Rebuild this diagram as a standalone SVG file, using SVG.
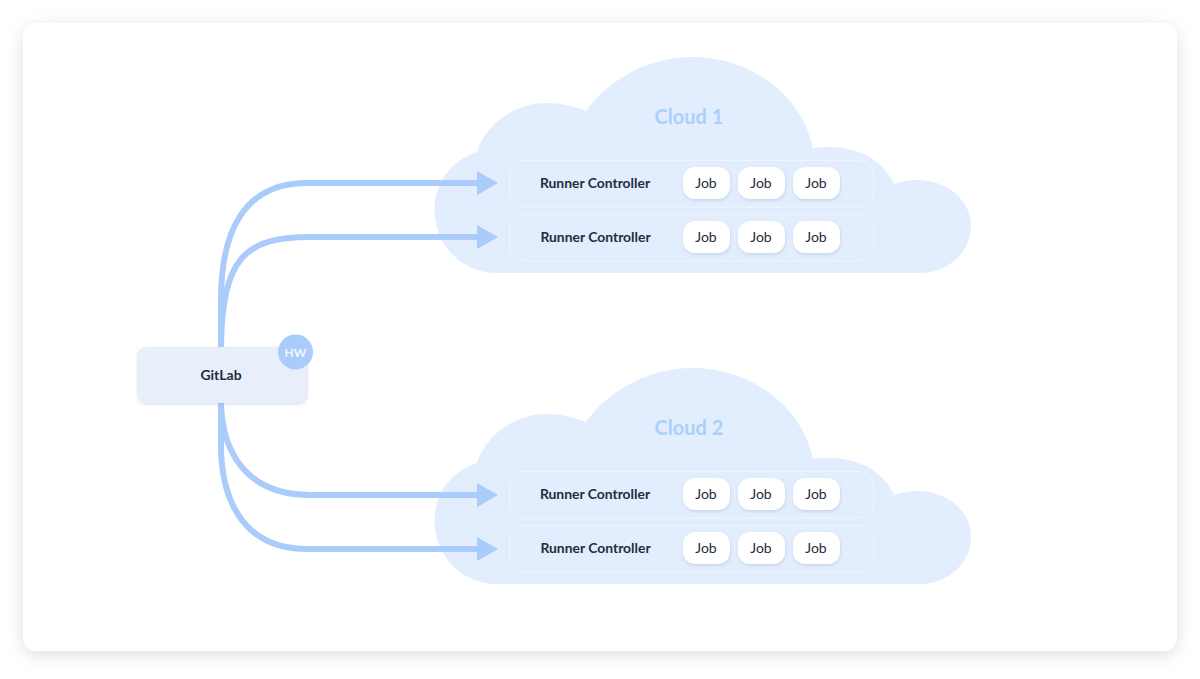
<svg xmlns="http://www.w3.org/2000/svg" width="1200" height="679" viewBox="0 0 1200 679">
<style>
text{font-family:"Lato","Liberation Sans",sans-serif;text-anchor:middle}
.cloud{fill:#e2edfd}
.cl{font-size:20px;font-weight:700;fill:#acd0fc}
.row{fill:none;stroke:#f0f5fe;stroke-width:1}
.rc{font-size:13.900px;font-weight:700;fill:#252c3d}
.job{fill:#fff;filter:url(#ps)}
.jt{font-size:14px;fill:#252c3d}
.line{fill:none;stroke:#a9ccfb;stroke-width:6}
</style>
<defs>
<filter id="card" x="-5%" y="-5%" width="110%" height="112%"><feDropShadow dx="0" dy="4" stdDeviation="8" flood-color="#000" flood-opacity=".13"/></filter>
<filter id="ps" x="-20%" y="-20%" width="140%" height="150%"><feDropShadow dx="0.500" dy="1.500" stdDeviation="1.500" flood-color="#7f90b0" flood-opacity=".28"/></filter>
<marker id="ah" markerUnits="userSpaceOnUse" markerWidth="22" markerHeight="26" refX="1" refY="13" orient="auto"><path d="M0 1L21 13L0 25Z" fill="#a9ccfb"/></marker>
<path id="cp" d="M497 273C462 273 434.500 245 434.500 210C434.500 182 452 160 477 152C487 120 520 103 545 103C560 103 574 106 586 111C610 78 650 57 692 57C752 57 802 96 813 148C850 143 882 156 894 184C902 181 910 180 917 180C947 180 971 200 971 226C971 252 948 273 920 273Z"/>
</defs>
<g id="page"><rect x="23" y="23" width="1154" height="628" rx="14" fill="#fff" filter="url(#card)"/></g>
<g id="cloud-1">
<use href="#cp" class="cloud"/>
<text class="cl" x="689" y="124">Cloud 1</text>
</g>
<g id="cloud-2">
<use href="#cp" class="cloud" y="311"/>
<text class="cl" x="689" y="435">Cloud 2</text>
</g>
<g id="connectors">
<path class="line" marker-end="url(#ah)" d="M221 347V300C221 230 245 183 307 183H478"/>
<path class="line" marker-end="url(#ah)" d="M221 347C222 258 245 237 310 237H478"/>
<path class="line" marker-end="url(#ah)" d="M221 403C222 450 245 495 310 495H478"/>
<path class="line" marker-end="url(#ah)" d="M221 403V445C221 495 240 549 307 549H478"/>
</g>
<g id="gitlab">
<rect x="137" y="347" width="170" height="56" rx="9" fill="#e8effb" filter="url(#ps)"/>
<text x="221" y="380" font-size="14" font-weight="700" fill="#252c3d">GitLab</text>
<circle cx="295.500" cy="352" r="17.500" fill="#a9ccfb"/>
<text x="295.500" y="357" font-size="12" font-weight="700" fill="#f0f5fe">HW</text>
</g>
<g id="controller-1-1"><rect class="row" x="509.500" y="160.500" width="364" height="46.500" rx="14"/><text class="rc" x="595" y="187.500">Runner Controller</text>
<rect class="job" x="683" y="167" width="47" height="32" rx="12"/><text class="jt" x="706" y="188">Job</text>
<rect class="job" x="738" y="167" width="47" height="32" rx="12"/><text class="jt" x="761" y="188">Job</text>
<rect class="job" x="793" y="167" width="47" height="32" rx="12"/><text class="jt" x="816" y="188">Job</text></g>
<g id="controller-1-2"><rect class="row" x="509.500" y="214.500" width="364" height="46.500" rx="14"/><text class="rc" x="595.500" y="241.500">Runner Controller</text>
<rect class="job" x="683" y="221" width="47" height="32" rx="12"/><text class="jt" x="706" y="242">Job</text>
<rect class="job" x="738" y="221" width="47" height="32" rx="12"/><text class="jt" x="761" y="242">Job</text>
<rect class="job" x="793" y="221" width="47" height="32" rx="12"/><text class="jt" x="816" y="242">Job</text></g>
<g id="controller-2-1"><rect class="row" x="509.500" y="471.500" width="364" height="46.500" rx="14"/><text class="rc" x="595" y="498.500">Runner Controller</text>
<rect class="job" x="683" y="478" width="47" height="32" rx="12"/><text class="jt" x="706" y="499">Job</text>
<rect class="job" x="738" y="478" width="47" height="32" rx="12"/><text class="jt" x="761" y="499">Job</text>
<rect class="job" x="793" y="478" width="47" height="32" rx="12"/><text class="jt" x="816" y="499">Job</text></g>
<g id="controller-2-2"><rect class="row" x="509.500" y="525.500" width="364" height="46.500" rx="14"/><text class="rc" x="595.500" y="552.500">Runner Controller</text>
<rect class="job" x="683" y="532" width="47" height="32" rx="12"/><text class="jt" x="706" y="553">Job</text>
<rect class="job" x="738" y="532" width="47" height="32" rx="12"/><text class="jt" x="761" y="553">Job</text>
<rect class="job" x="793" y="532" width="47" height="32" rx="12"/><text class="jt" x="816" y="553">Job</text></g>
</svg>
